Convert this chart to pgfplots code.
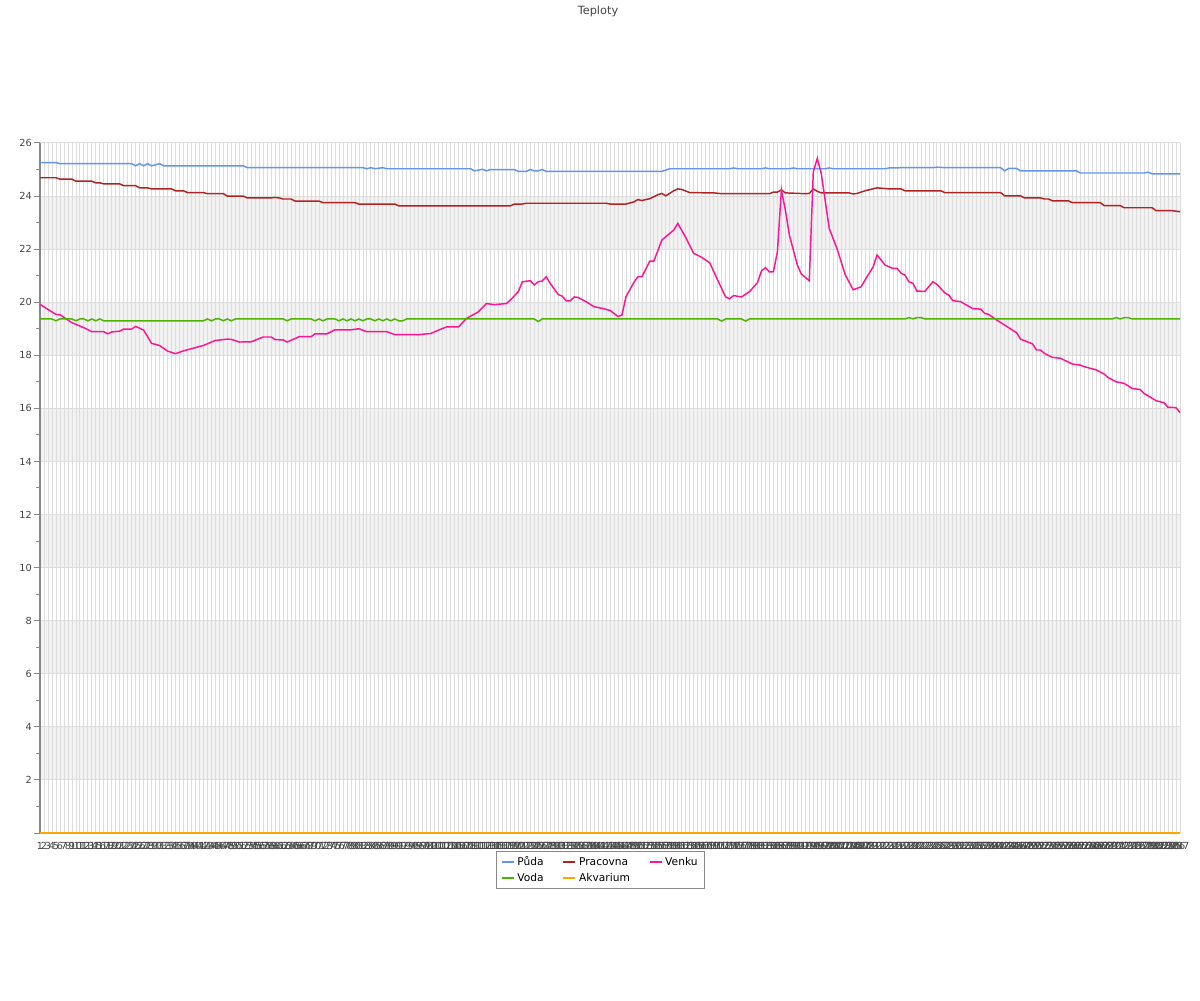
\documentclass[border=0pt]{standalone}
\usepackage{fontspec}
\setmainfont{DejaVu Sans}
\usepackage{pgfplots}
\pgfplotsset{compat=1.18}
\definecolor{cpuda}{HTML}{6495ED}
\definecolor{cprac}{HTML}{B22222}
\definecolor{cvoda}{HTML}{4CB300}
\definecolor{cakva}{HTML}{FFA500}
\definecolor{cvenk}{HTML}{FF1493}
\definecolor{cband}{HTML}{F2F2F2}
\definecolor{cgrid}{HTML}{DDDDDD}
\definecolor{caxis}{HTML}{888888}
\definecolor{ctext}{HTML}{444444}
\begin{document}
\begin{tikzpicture}
\begin{axis}[
  at={(0pt,0pt)}, anchor=south west,
  scale only axis, width=855pt, height=517.5pt,
  set layers, clip=false,
  xmin=1, xmax=287, ymin=0, ymax=26,
  axis x line*=bottom, axis y line*=left,
  axis line style={caxis, line width=0.75pt, -},
  xtick={1,...,287},
  xmajorgrids, ymajorgrids,
  x grid style={cgrid, line width=0.55pt},
  y grid style={cgrid, line width=0.75pt},
  ytick={0,2,...,26},
  yticklabels={,2,4,6,8,10,12,14,16,18,20,22,24,26},
  minor ytick={1,3,...,25},
  tick align=outside,
  major tick length=4.5pt, minor tick length=3pt,
  y tick style={caxis, line width=0.75pt},
  x tick style={draw=none},
  ticklabel style={font=\fontsize{7.3}{8}\selectfont, text=ctext},
  xticklabel style={inner sep=1pt, yshift=-1pt},
  yticklabel style={inner sep=1.5pt},
  /pgf/number format/assume math mode=true,
  /pgf/number format/1000 sep={},
  legend columns=3,
  legend cell align=left,
  legend style={at={(0.4917,0)}, anchor=north, yshift=-13.5pt,
    draw=caxis, line width=0.75pt, font=\fontsize{8}{9.5}\selectfont,
    inner xsep=3pt, inner ysep=2pt,
    /tikz/every even column/.append style={column sep=12pt}},
  legend image code/.code={\draw[#1, line width=1.5pt] (0pt,0pt) -- (9pt,0pt);},
  every axis plot/.append style={line width=1.1pt},
]
\addplot[draw=none, fill=cband, forget plot, on layer=axis background] coordinates {(1,2)(287,2)(287,4)(1,4)} \closedcycle;
\addplot[draw=none, fill=cband, forget plot, on layer=axis background] coordinates {(1,6)(287,6)(287,8)(1,8)} \closedcycle;
\addplot[draw=none, fill=cband, forget plot, on layer=axis background] coordinates {(1,10)(287,10)(287,12)(1,12)} \closedcycle;
\addplot[draw=none, fill=cband, forget plot, on layer=axis background] coordinates {(1,14)(287,14)(287,16)(1,16)} \closedcycle;
\addplot[draw=none, fill=cband, forget plot, on layer=axis background] coordinates {(1,18)(287,18)(287,20)(1,20)} \closedcycle;
\addplot[draw=none, fill=cband, forget plot, on layer=axis background] coordinates {(1,22)(287,22)(287,24)(1,24)} \closedcycle;

% Puda
\addplot[cpuda] coordinates {
(1,25.26)(5,25.26)(6,25.22)(24,25.22)(25,25.14)(26,25.22)(27,25.14)(28,25.22)(29,25.14)(31,25.22)(32,25.14)(52,25.14)(53,25.07)(82,25.07)(83,25.03)(84,25.07)(85,25.03)(87,25.07)(88,25.03)(109,25.03)(110,24.95)(111,24.98)(112,25.01)(113,24.95)(114,25.0)(120,25.0)(121,24.93)(123,24.93)(124,25.0)(125,24.95)(126,24.95)(127,25.0)(128,24.93)(157,24.93)(158,24.98)(159,25.03)(174,25.03)(175,25.06)(176,25.03)(182,25.03)(183,25.06)(184,25.03)(189,25.03)(190,25.06)(191,25.03)(198,25.03)(199,25.06)(200,25.03)(213,25.03)(214,25.06)(216,25.06)(217,25.07)(225,25.07)(226,25.09)(228,25.07)(242,25.07)(243,24.95)(244,25.04)(246,25.04)(247,24.95)(261,24.95)(262,24.87)(278,24.87)(279,24.90)(280,24.84)(287,24.84)
};
% Pracovna
\addplot[cprac] coordinates {
(1,24.69)(5,24.69)(6,24.64)(9,24.64)(10,24.56)(14,24.56)(15,24.50)(16,24.50)(17,24.46)(21,24.46)(22,24.39)(25,24.39)(26,24.31)(28,24.31)(29,24.27)(34,24.27)(35,24.20)(37,24.20)(38,24.13)(42,24.13)(43,24.09)(47,24.09)(48,24.0)(52,24.0)(53,23.93)(59,23.93)(60,23.95)(61,23.93)(62,23.89)(64,23.89)(65,23.81)(71,23.81)(72,23.75)(80,23.75)(81,23.70)(90,23.70)(91,23.63)(119,23.63)(120,23.70)(122,23.70)(123,23.73)(143,23.73)(144,23.70)(148,23.70)(150,23.78)(151,23.87)(152,23.83)(153,23.87)(154,23.90)(156,24.05)(157,24.10)(158,24.01)(160,24.2)(161,24.27)(162,24.25)(164,24.13)(170,24.12)(172,24.09)(184,24.09)(185,24.15)(186,24.15)(187,24.23)(188,24.12)(193,24.09)(194,24.1)(195,24.27)(196,24.18)(197,24.12)(204,24.12)(205,24.08)(206,24.1)(208,24.20)(211,24.31)(214,24.27)(217,24.27)(218,24.20)(227,24.20)(228,24.13)(242,24.13)(243,24.01)(247,24.01)(248,23.93)(252,23.93)(253,23.89)(254,23.89)(255,23.82)(259,23.82)(260,23.75)(267,23.75)(268,23.64)(272,23.64)(273,23.56)(280,23.56)(281,23.45)(285,23.45)(287,23.41)
};
% Venku
\addplot[cvenk] coordinates {
(1,19.92)(5,19.54)(6,19.53)(9,19.23)(12,19.04)(14,18.89)(17,18.89)(18,18.81)(19,18.88)(21,18.91)(22,18.99)(24,18.99)(25,19.09)(27,18.95)(29,18.45)(31,18.37)(33,18.16)(35,18.06)(37,18.17)(39,18.25)(42,18.37)(45,18.56)(48,18.61)(49,18.60)(51,18.50)(54,18.51)(57,18.69)(59,18.69)(60,18.59)(62,18.58)(63,18.50)(66,18.70)(69,18.70)(70,18.81)(73,18.81)(75,18.96)(79,18.96)(81,19.0)(83,18.89)(88,18.89)(90,18.78)(96,18.78)(99,18.82)(101,18.95)(103,19.07)(106,19.07)(108,19.39)(111,19.64)(113,19.95)(115,19.91)(118,19.95)(119,20.08)(121,20.40)(122,20.77)(124,20.81)(125,20.65)(126,20.77)(127,20.80)(128,20.96)(129,20.71)(131,20.29)(132,20.23)(133,20.05)(134,20.05)(135,20.20)(136,20.18)(138,20.02)(140,19.83)(142,19.77)(144,19.69)(145,19.58)(146,19.46)(147,19.52)(148,20.20)(150,20.75)(151,20.96)(152,20.96)(154,21.55)(155,21.55)(157,22.34)(158,22.47)(160,22.72)(161,22.97)(163,22.44)(165,21.84)(167,21.69)(169,21.49)(171,20.84)(173,20.20)(174,20.13)(175,20.25)(177,20.20)(179,20.40)(181,20.74)(182,21.18)(183,21.30)(184,21.14)(185,21.15)(186,21.90)(187,24.23)(188,23.47)(189,22.53)(191,21.40)(192,21.06)(194,20.81)(195,24.91)(196,25.42)(197,24.85)(199,22.78)(201,22.0)(203,21.04)(205,20.47)(207,20.58)(208,20.84)(210,21.33)(211,21.78)(213,21.40)(215,21.27)(216,21.28)(217,21.10)(218,21.02)(219,20.77)(220,20.71)(221,20.42)(223,20.41)(225,20.77)(226,20.68)(228,20.35)(229,20.27)(230,20.06)(232,20.02)(233,19.93)(235,19.76)(237,19.74)(238,19.58)(239,19.54)(241,19.33)(243,19.14)(246,18.85)(247,18.61)(250,18.43)(251,18.20)(252,18.20)(253,18.07)(255,17.92)(257,17.89)(260,17.67)(262,17.63)(263,17.57)(266,17.45)(268,17.29)(269,17.16)(271,17.00)(273,16.94)(275,16.75)(277,16.71)(278,16.56)(279,16.47)(281,16.29)(283,16.21)(284,16.04)(286,16.03)(287,15.84)
};
% Voda
\addplot[cvoda] coordinates {
(1,19.37)(4,19.37)(5,19.30)(6,19.37)(9,19.37)(10,19.30)(11,19.37)(12,19.37)(13,19.30)(14,19.37)(15,19.30)(16,19.37)(17,19.30)(42,19.30)(43,19.37)(44,19.30)(45,19.37)(46,19.37)(47,19.30)(48,19.37)(49,19.30)(50,19.37)(62,19.37)(63,19.30)(64,19.37)(69,19.37)(70,19.30)(71,19.37)(72,19.30)(73,19.37)(75,19.37)(76,19.30)(77,19.37)(78,19.30)(79,19.37)(80,19.30)(81,19.37)(82,19.30)(83,19.37)(84,19.37)(85,19.30)(86,19.37)(87,19.30)(88,19.37)(89,19.30)(90,19.37)(91,19.30)(92,19.30)(93,19.37)(125,19.37)(126,19.27)(127,19.37)(171,19.37)(172,19.29)(173,19.37)(177,19.37)(178,19.29)(179,19.37)(218,19.37)(219,19.42)(220,19.37)(221,19.42)(222,19.42)(223,19.37)(270,19.37)(271,19.42)(272,19.37)(273,19.42)(274,19.42)(275,19.37)(287,19.37)
};
% Akvarium
\addplot[cakva] coordinates {(1,0)(287,0)};
\legend{Půda,Pracovna,Venku,Voda,Akvarium}
\end{axis}
\node[text=ctext, font=\fontsize{8.5}{10}\selectfont] at (418.5pt,616.5pt) {Teploty};
\path (-30pt,-125.25pt) rectangle (870pt,624.75pt);
\end{tikzpicture}
\end{document}
